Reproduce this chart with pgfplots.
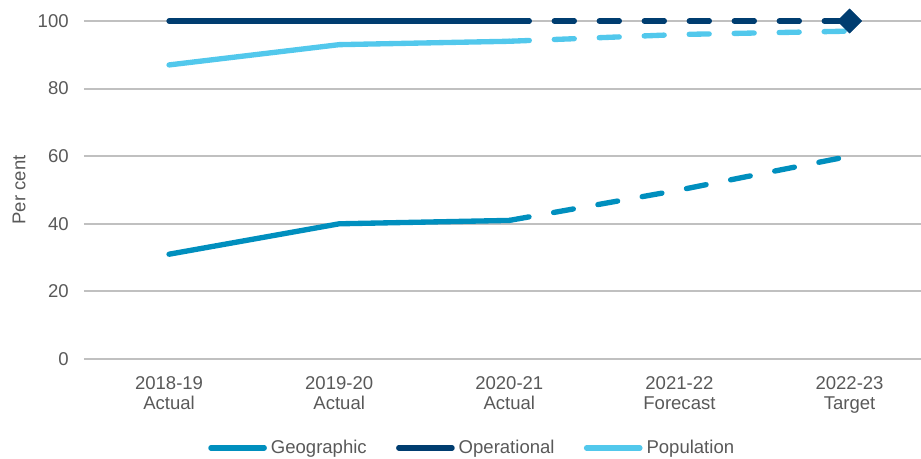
\documentclass[border=0pt]{standalone}
\usepackage{fontspec}
\setmainfont{Liberation Sans}
\usepackage{pgfplots}
\pgfplotsset{compat=1.18}

\definecolor{geo}{RGB}{0,143,190}
\definecolor{ops}{RGB}{0,61,112}
\definecolor{pop}{RGB}{82,200,236}
\definecolor{txt}{RGB}{89,89,89}
\definecolor{gridgray}{RGB}{192,192,192}

\newcommand\chartfont{\fontsize{13.9}{15}\selectfont}

\begin{document}
\begin{tikzpicture}
\begin{axis}[
  name=ax,
  scale only axis,
  width=627.75pt, height=253.5pt,
  xmin=-0.5, xmax=4.42, ymin=0, ymax=100,
  xtick={0,...,4},
  xticklabels={{2018-19\\Actual},{2019-20\\Actual},{2020-21\\Actual},{2021-22\\Forecast},{2022-23\\Target}},
  ytick={0,20,...,100},
  axis line style={draw=none},
  major tick length=0pt,
  ymajorgrids,
  grid style={gridgray, line width=1.5pt},
  clip=false,
  /pgf/number format/assume math mode=true,
  tick label style={font=\chartfont, text=txt},
  xticklabel style={align=center, yshift=-9.5pt},
  yticklabel style={xshift=-8pt},
  ylabel={Per cent},
  ylabel style={at={(rel axis cs:-0.0775,0.5)}, anchor=center, font=\chartfont, text=txt},
  legend columns=3,
  legend style={at={(rel axis cs:0.465,-0.263)}, anchor=center, draw=none,
    font=\chartfont, text=txt,
    nodes={inner xsep=3pt},
    /tikz/every even column/.append style={column sep=19pt}},
  legend image code/.code={\draw[#1, solid, line width=4pt, line cap=round] (0pt,0pt) -- (40pt,0pt);},
  every axis plot/.append style={line width=4pt, line cap=round, line join=round},
]
% Actual results (solid)
\addplot[geo, no marks] coordinates {(0,31) (1,40) (2,41)};
\addlegendentry{Geographic}
\addplot[ops, no marks] coordinates {(0,100) (1,100) (2,100)};
\addlegendentry{Operational}
\addplot[pop, no marks] coordinates {(0,87) (1,93) (2,94)};
\addlegendentry{Population}
% Forecast and target (dashed)
\addplot[geo, no marks, forget plot, dash pattern=on 15pt off 18.75pt] coordinates {(2,41) (3,50) (4,60)};
\addplot[pop, no marks, forget plot, dash pattern=on 15pt off 18.75pt] coordinates {(2,94) (3,96) (4,97)};
\addplot[ops, no marks, forget plot, dash pattern=on 15pt off 18.75pt] coordinates {(2,100) (3,100) (4,100)};
% Target marker
\addplot[forget plot, only marks, mark=square*, mark size=6.4pt,
  mark options={rotate=45, fill=ops, draw=ops, line width=0.5pt, solid}] coordinates {(4,100)};
\end{axis}
\pgfresetboundingbox
\path[use as bounding box] ([xshift=-63pt,yshift=-75pt]ax.south west) rectangle ([yshift=15.75pt]ax.north east);
\end{tikzpicture}
\end{document}
